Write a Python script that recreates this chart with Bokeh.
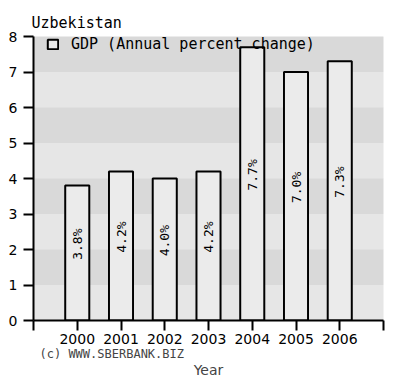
import numpy as np
from bokeh.plotting import figure
from bokeh.models import ColumnDataSource, FixedTicker, Legend, LegendItem, Title, Range1d
from bokeh.core.properties import value
from bokeh.embed import file_html
from bokeh.resources import INLINE

# ---- data ----
country = "Uzbekistan"
series_name = "GDP (Annual percent change)"
years = ["2000", "2001", "2002", "2003", "2004", "2005", "2006"]
gdp = [3.8, 4.2, 4.0, 4.2, 7.7, 7.0, 7.3]
y_ticks = [0, 1, 2, 3, 4, 5, 6, 7, 8]
x_label = "Year"
credit = "(c) WWW.SBERBANK.BIZ"

MONO = "DejaVu Sans Mono"
SANS = "DejaVu Sans"

pos = list(range(1, len(years) + 1))
labels = [f"{v:.1f}%" for v in gdp]
label_y = [v / 2 + 0.25 for v in gdp]
src = ColumnDataSource(dict(x=pos, top=gdp, lab=labels, ly=label_y))

p = figure(frame_width=350, frame_height=284,
           x_range=Range1d(0, len(years) + 1), y_range=Range1d(y_ticks[0], y_ticks[-1]),
           output_backend="svg", toolbar_location=None,
           min_border_left=33, min_border_right=4, min_border_top=36, min_border_bottom=40,
           background_fill_color="#e6e6e6", border_fill_color="white",
           outline_line_color=None)

p.title.text = country
p.title.text_font = MONO
p.title.text_font_size = "15px"
p.title.text_font_style = "normal"
p.title.align = "left"
p.title.offset = -2
p.title.text_color = "black"

# y axis
ya = p.yaxis[0]
ya.ticker = FixedTicker(ticks=y_ticks)
ya.major_tick_out = 10
ya.major_tick_in = 0
ya.minor_tick_line_color = None
ya.axis_line_width = 2
ya.major_tick_line_width = 2
ya.major_label_standoff = 6
ya.major_label_text_font = SANS
ya.major_label_text_font_size = "14px"
ya.major_label_text_color = "black"

# x axis
xa = p.xaxis[0]
xticks = list(range(0, len(years) + 2))
xa.ticker = FixedTicker(ticks=xticks)
overrides = {t: "" for t in xticks}
for i, yr in zip(pos, years):
    overrides[i] = yr
xa.major_label_overrides = overrides
xa.major_tick_out = 10
xa.major_tick_in = 0
xa.minor_tick_line_color = None
xa.axis_line_width = 2
xa.major_tick_line_width = 2
xa.major_label_standoff = 3
xa.major_label_text_font = SANS
xa.major_label_text_font_size = "14px"
xa.major_label_text_color = "black"

p.xgrid.grid_line_color = None
p.ygrid.grid_line_color = None
p.ygrid.band_fill_color = "#d9d9d9"
p.ygrid.band_fill_alpha = 1

bars = p.vbar(x="x", top="top", width=0.55, source=src,
              fill_color="#ebebeb", line_color="black", line_width=2)

p.text(x="x", y="ly", text="lab", angle=np.pi / 2, source=src,
       text_align="center", text_baseline="middle",
       text_font=value(MONO), text_font_size="13px", text_color="black")

legend = Legend(items=[LegendItem(label=series_name, renderers=[bars])],
                location=(13, 284 - 1 - 16),
                glyph_width=13, glyph_height=12, label_standoff=12,
                label_height=16, padding=0, margin=0,
                background_fill_alpha=0, border_line_color=None,
                label_text_font=MONO, label_text_font_size="15px",
                label_text_color="black")
p.add_layout(legend)

p.add_layout(Title(text=credit, align="left", text_font=MONO, text_font_size="12px",
                   text_font_style="normal", offset=6, standoff=-3), "below")
p.add_layout(Title(text=x_label, align="center", text_font=SANS, text_font_size="14px",
                   text_font_style="normal", standoff=0), "below")

open("out.html", "w").write(file_html(p, INLINE))
